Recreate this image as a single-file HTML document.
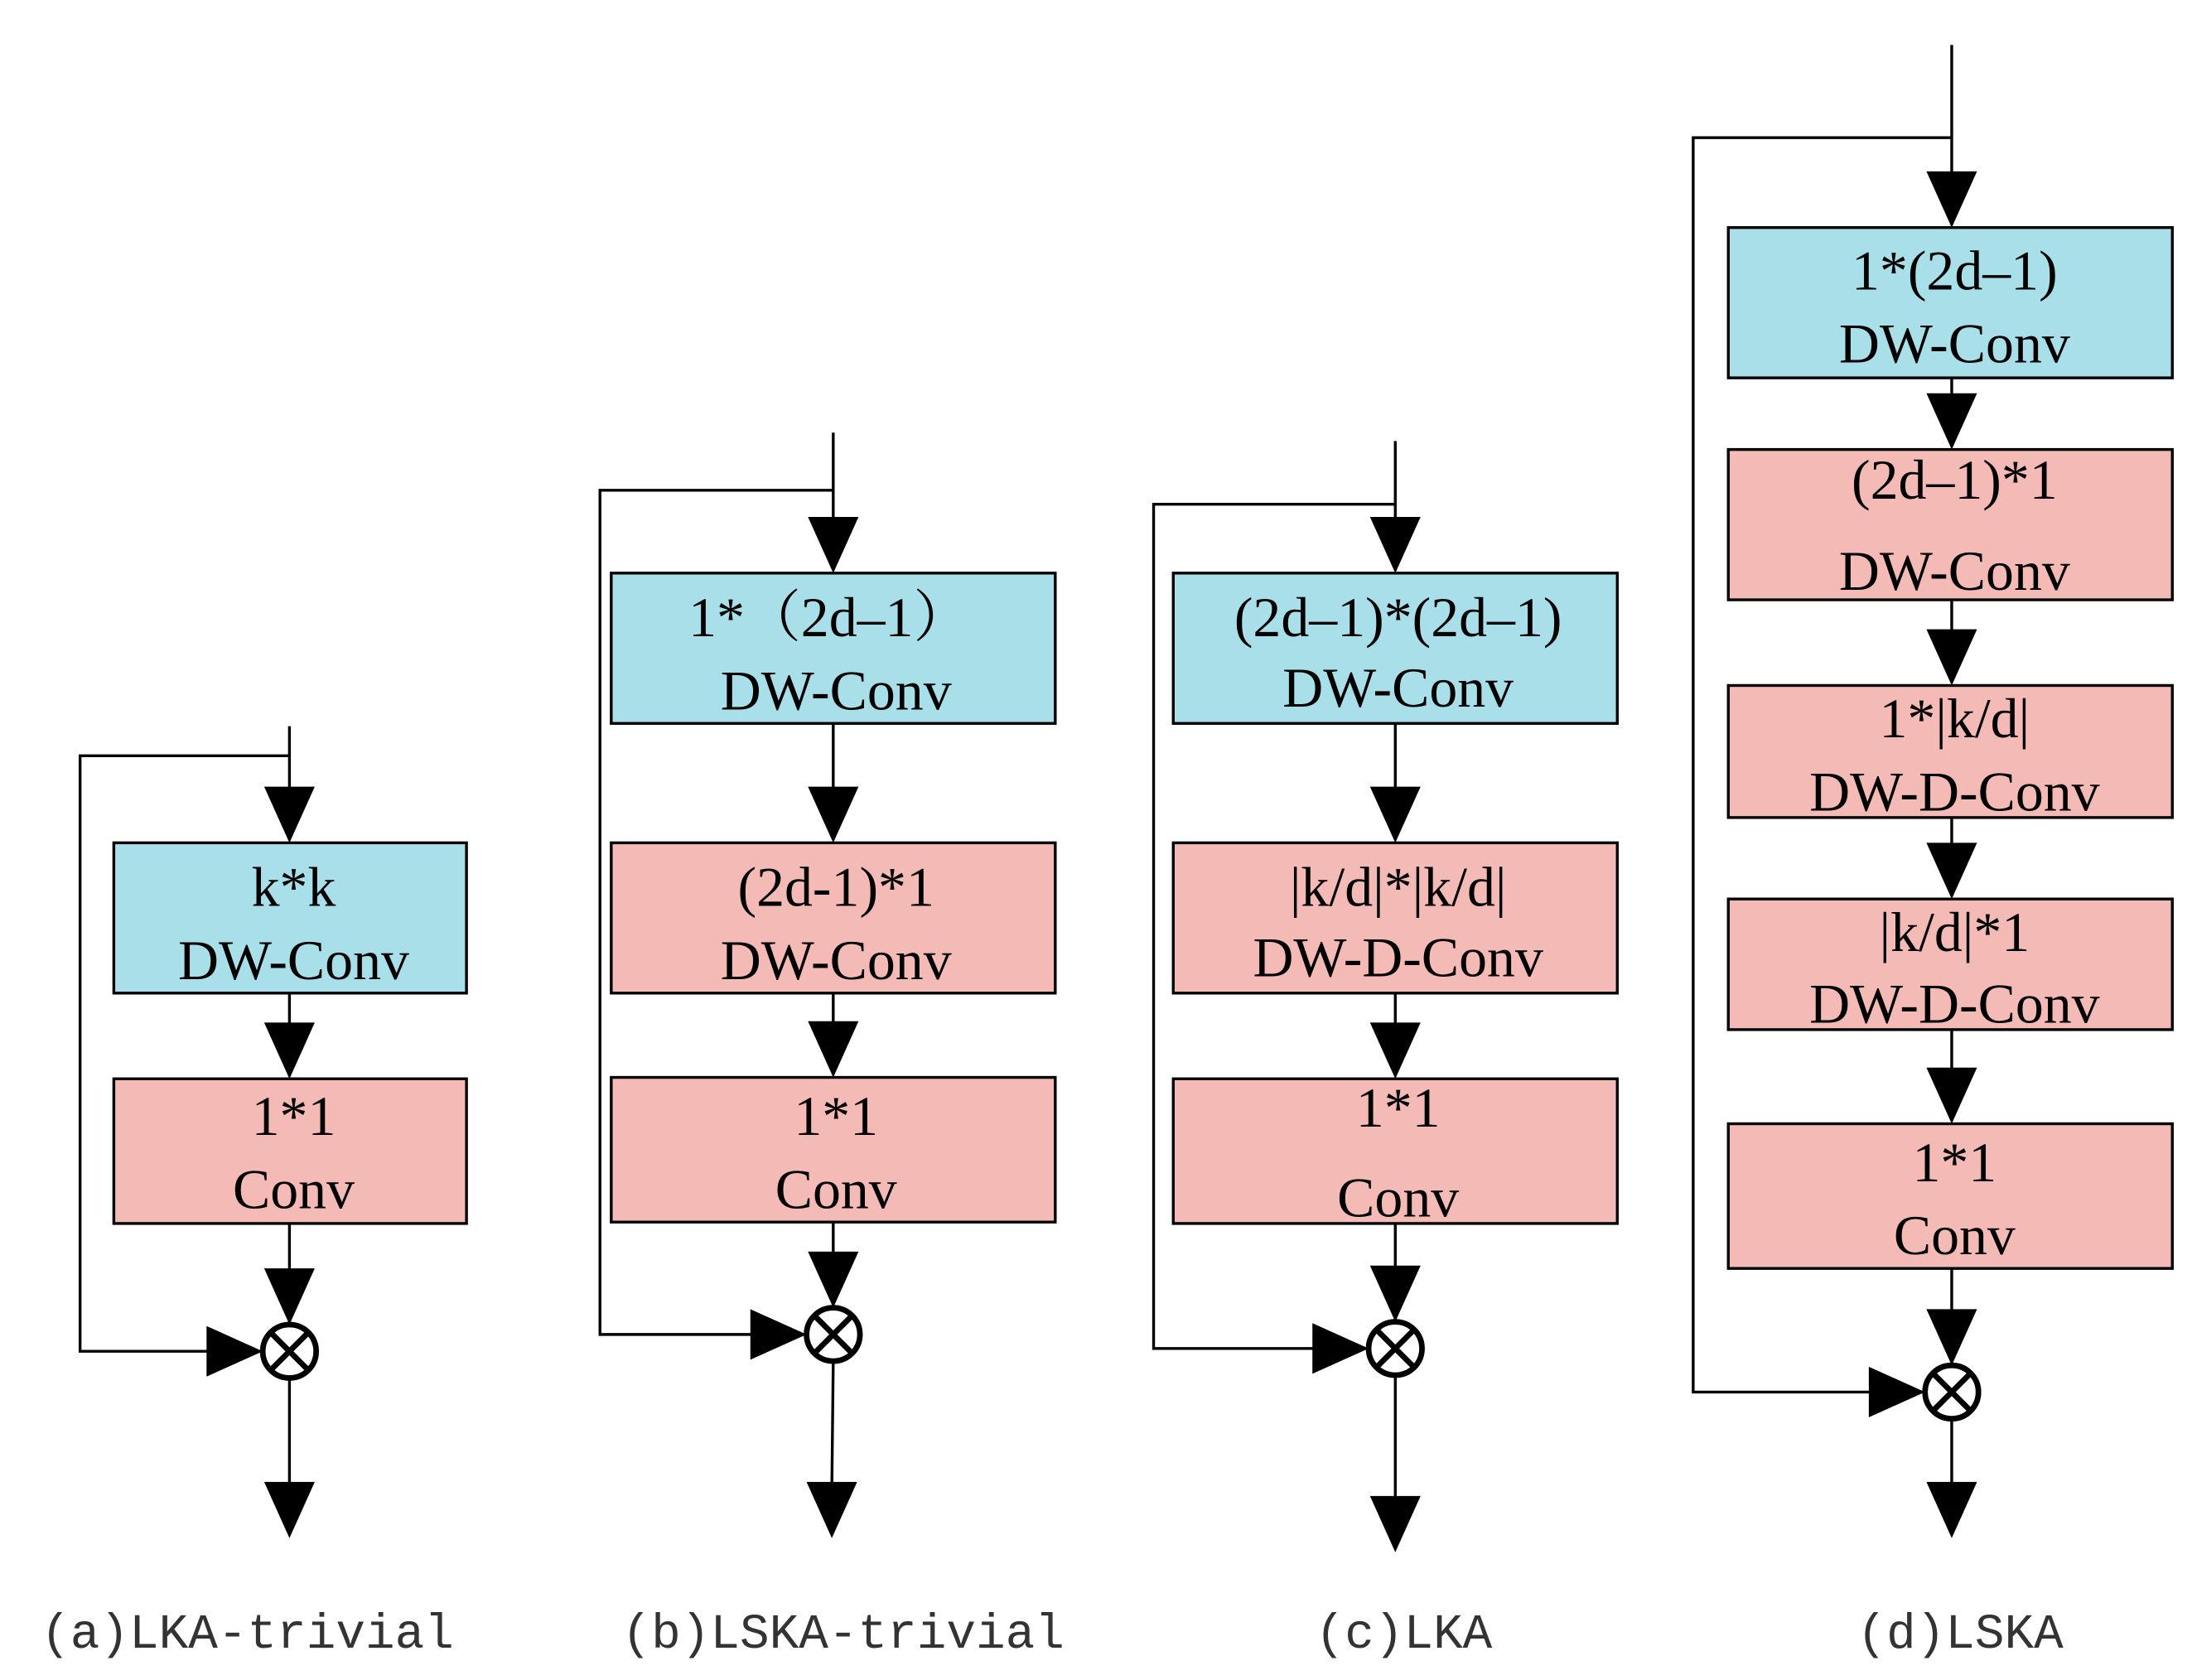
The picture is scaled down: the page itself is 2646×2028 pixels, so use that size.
<!DOCTYPE html>
<html><head><meta charset="utf-8"><style>
html,body{margin:0;padding:0;background:#fff;}
svg{display:block;}
.t{font-family:"Liberation Serif","Noto Serif CJK SC",serif;font-size:40px;text-anchor:middle;fill:#000;}
.c{font-family:"Liberation Mono","Noto Sans CJK SC",monospace;font-size:35px;text-anchor:middle;fill:#333;}
.b{fill:#a8dfe9;stroke:#000;stroke-width:2;}
.p{fill:#f3bab6;stroke:#000;stroke-width:2;}
.l{stroke:#000;stroke-width:2;fill:none;}
.o{fill:#fff;stroke:#000;stroke-width:4;}
</style></head><body>
<svg width="2646" height="2028" viewBox="0 0 1560 1196" preserveAspectRatio="none" xmlns="http://www.w3.org/2000/svg">
<!-- column a -->
<path class="l" d="M206 517V598M206 707V766M206 871V941M206 981V1060M206 538H57V962H150"/>
<polygon points="188,560 224,560 206,600"/>
<polygon points="188,728 224,728 206,768"/>
<polygon points="188,903 224,903 206,943"/>
<polygon points="188,1055 224,1055 206,1095"/>
<polygon points="147,944 147,980 187,962"/>
<rect class="b" x="81" y="600" width="251" height="107"/>
<rect class="p" x="81" y="768" width="251" height="103"/>
<circle class="o" cx="206" cy="962" r="19"/>
<path class="l" style="stroke-width:4" d="M193 949L219 975M219 949L193 975"/>
<text class="t" x="209" y="645">k*k</text><text class="t" x="209" y="697">DW-Conv</text>
<text class="t" x="209" y="808">1*1</text><text class="t" x="209" y="860">Conv</text>

<!-- column b -->
<path class="l" d="M593 308V406M593 515V598M593 707V765M593 870V929M593 969L592 1060M593 349H427V950H537"/>
<polygon points="575,368 611,368 593,408"/>
<polygon points="575,560 611,560 593,600"/>
<polygon points="575,727 611,727 593,767"/>
<polygon points="575,891 611,891 593,931"/>
<polygon points="574,1055 610,1055 592,1095"/>
<polygon points="534,932 534,968 574,950"/>
<rect class="b" x="435" y="408" width="316" height="107"/>
<rect class="p" x="435" y="600" width="316" height="107"/>
<rect class="p" x="435" y="767" width="316" height="103"/>
<circle class="o" cx="593" cy="950" r="19"/>
<path class="l" style="stroke-width:4" d="M580 937L606 963M606 937L580 963"/>
<text class="t" x="590" y="453">1*（2d–1）</text><text class="t" x="595" y="505">DW-Conv</text>
<text class="t" x="595" y="645">(2d-1)*1</text><text class="t" x="595" y="697">DW-Conv</text>
<text class="t" x="595" y="808">1*1</text><text class="t" x="595" y="860">Conv</text>

<!-- column c -->
<path class="l" d="M993 314V406M993 515V598M993 707V766M993 871V939M993 980V1070M993 359H821V960H937"/>
<polygon points="975,368 1011,368 993,408"/>
<polygon points="975,560 1011,560 993,600"/>
<polygon points="975,728 1011,728 993,768"/>
<polygon points="975,901 1011,901 993,941"/>
<polygon points="975,1065 1011,1065 993,1105"/>
<polygon points="934,942 934,978 974,960"/>
<rect class="b" x="835" y="408" width="316" height="107"/>
<rect class="p" x="835" y="600" width="316" height="107"/>
<rect class="p" x="835" y="768" width="316" height="103"/>
<circle class="o" cx="993" cy="960" r="19"/>
<path class="l" style="stroke-width:4" d="M980 947L1006 973M1006 947L980 973"/>
<text class="t" x="995" y="453">(2d–1)*(2d–1)</text><text class="t" x="995" y="503">DW-Conv</text>
<text class="t" x="995" y="645">|k/d|*|k/d|</text><text class="t" x="995" y="695">DW-D-Conv</text>
<text class="t" x="995" y="802">1*1</text><text class="t" x="995" y="866">Conv</text>

<!-- column d -->
<path class="l" d="M1389 32V160M1389 269V318M1389 427V486M1389 582V638M1389 733V798M1389 903V970M1389 1010V1060M1389 98H1205V991H1333"/>
<polygon points="1371,122 1407,122 1389,162"/>
<polygon points="1371,280 1407,280 1389,320"/>
<polygon points="1371,448 1407,448 1389,488"/>
<polygon points="1371,600 1407,600 1389,640"/>
<polygon points="1371,760 1407,760 1389,800"/>
<polygon points="1371,932 1407,932 1389,972"/>
<polygon points="1371,1055 1407,1055 1389,1095"/>
<polygon points="1330,973 1330,1009 1370,991"/>
<rect class="b" x="1230" y="162" width="316" height="107"/>
<rect class="p" x="1230" y="320" width="316" height="107"/>
<rect class="p" x="1230" y="488" width="316" height="94"/>
<rect class="p" x="1230" y="640" width="316" height="93"/>
<rect class="p" x="1230" y="800" width="316" height="103"/>
<circle class="o" cx="1389" cy="991" r="19"/>
<path class="l" style="stroke-width:4" d="M1376 978L1402 1004M1402 978L1376 1004"/>
<text class="t" x="1391" y="206">1*(2d–1)</text><text class="t" x="1391" y="258">DW-Conv</text>
<text class="t" x="1391" y="355">(2d–1)*1</text><text class="t" x="1391" y="420">DW-Conv</text>
<text class="t" x="1391" y="525">1*|k/d|</text><text class="t" x="1391" y="577">DW-D-Conv</text>
<text class="t" x="1391" y="677">|k/d|*1</text><text class="t" x="1391" y="728">DW-D-Conv</text>
<text class="t" x="1391" y="841">1*1</text><text class="t" x="1391" y="893">Conv</text>

<!-- captions -->
<text class="c" x="176" y="1173">(a)LKA-trivial</text>
<text class="c" x="600" y="1173">(b)LSKA-trivial</text>
<text class="c" x="999" y="1173">(c)LKA</text>
<text class="c" x="1395" y="1173">(d)LSKA</text>
</svg>
</body></html>
